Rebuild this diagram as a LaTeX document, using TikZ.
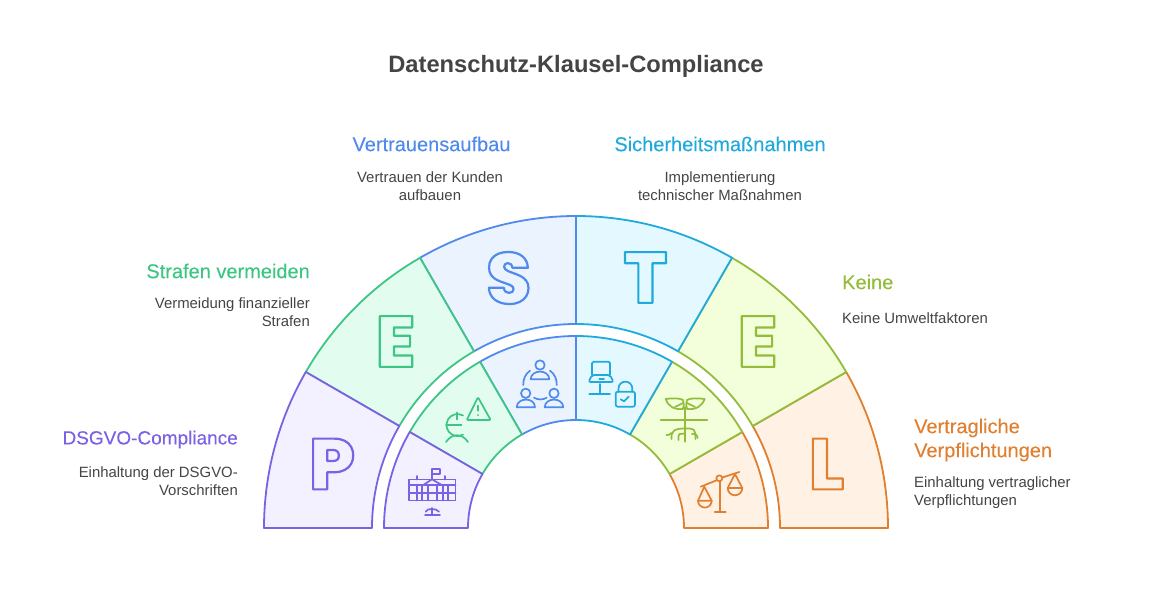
\documentclass[tikz,border=0pt]{standalone}
\usepackage{fontspec}
\setmainfont{Liberation Sans}
\newfontfamily\letterfont{Poppins ExtraBold}
\newfontfamily\headfont[FakeBold=0.12]{Liberation Sans}
\definecolor{pline}{HTML}{7B61E4}
\definecolor{pfill}{HTML}{F3F0FF}
\definecolor{gline}{HTML}{3CC583}
\definecolor{gfill}{HTML}{E2FDF0}
\definecolor{sline}{HTML}{4F8AEC}
\definecolor{sfill}{HTML}{EBF3FF}
\definecolor{tline}{HTML}{20A9DC}
\definecolor{tfill}{HTML}{E3F8FF}
\definecolor{lline}{HTML}{92BC39}
\definecolor{lfill}{HTML}{F2FFDA}
\definecolor{oline}{HTML}{E07F2F}
\definecolor{ofill}{HTML}{FFF1E3}
\definecolor{bodytext}{HTML}{444444}
\newcommand{\outlined}[1]{\special{pdf:code 1 Tr 2.2 w 1 j}#1\special{pdf:code 0 Tr 0.4 w 0 j}}
\tikzset{
  sector/.style={draw=#1line, fill=#1fill, line width=1.8pt, line join=round},
  icon/.style={draw=#1, line width=1.7pt, line cap=round, line join=round},
  letternode/.style={text=#1, inner sep=0pt, font=\letterfont\fontsize{72}{72}\selectfont},
  titlenode/.style={inner sep=0pt, text=bodytext, font=\fontsize{23.7}{28}\selectfont\bfseries},
  headnode/.style={inner sep=0pt, text=#1, font=\headfont\fontsize{20}{24}\selectfont},
  descnode/.style={inner sep=0pt, text=bodytext, font=\fontsize{14.9}{18}\selectfont},
}
\begin{document}
\begin{tikzpicture}[x=1pt, y=-1pt]
  \useasboundingbox (0,0) rectangle (1152,600);
  \begin{scope}[shift={(576,528)}]
    \foreach \a/\c in {-30/o,-60/l,-90/t,-120/s,-150/g,-180/p} {
      \draw[sector=\c] (\a:312) arc[start angle=\a, end angle=\a+30, radius=312]
        -- (\a+30:204) arc[start angle=\a+30, end angle=\a, radius=204] -- cycle;
      \draw[sector=\c] (\a:192) arc[start angle=\a, end angle=\a+30, radius=192]
        -- (\a+30:108) arc[start angle=\a+30, end angle=\a, radius=108] -- cycle;
    }
  \end{scope}

  \node[titlenode] (title) at (576,66.5) {Datenschutz-Klausel-Compliance};

  \node[letternode=pline] (letterp) at (332,464) {\outlined{P}};
  \node[letternode=gline] (lettere) at (395.5,341.5) {\outlined{E}};
  \node[letternode=sline] (letters) at (508.7,278) {\outlined{S}};
  \node[letternode=tline] (lettert) at (645.5,277.5) {\outlined{T}};
  \node[letternode=lline] (letterf) at (757.5,341.5) {\outlined{E}};
  \node[letternode=oline] (letterl) at (826.5,464) {\outlined{L}};

  \node[headnode=pline, anchor=east, font=\headfont\fontsize{19}{24}\selectfont] (headp) at (238,439.5) {DSGVO-Compliance};
  \node[descnode, anchor=east, align=right] (descp) at (238,481) {Einhaltung der DSGVO-\\Vorschriften};
  \node[headnode=gline, anchor=east] (heade) at (310,271) {Strafen vermeiden};
  \node[descnode, anchor=east, align=right] (desce) at (310,312) {Vermeidung finanzieller\\Strafen};
  \node[headnode=sline] (heads) at (431.5,144) {Vertrauensaufbau};
  \node[descnode, align=center] (descs) at (430,186) {Vertrauen der Kunden\\aufbauen};
  \node[headnode=tline] (headt) at (720,144) {Sicherheitsmaßnahmen};
  \node[descnode, align=center] (desct) at (720,186) {Implementierung\\technischer Maßnahmen};
  \node[headnode=lline, anchor=west] (headf) at (842,282) {Keine};
  \node[descnode, anchor=west] (descf) at (842,318) {Keine Umweltfaktoren};
  \node[headnode=oline, anchor=west, align=left] (headl) at (914,440) {Vertragliche\\Verpflichtungen};
  \node[descnode, anchor=west, align=left] (descl) at (914,493) {Einhaltung vertraglicher\\Verpflichtungen};

  % building
  \begin{scope}[icon=pline]
    \draw (409,479.5) rectangle (455.5,500.5);
    \draw (409,485) -- (423.3,485) (441.7,485) -- (455.5,485);
    \draw (409,492.7) -- (455.5,492.7);
    \draw (416.7,479.5) -- (416.7,476) (445,479.5) -- (445,476);
    \foreach \x in {416.7,421.7,428.3,436.7,442.7,448.3} {
      \draw (\x,485) -- (\x,500.5);
    }
    \draw (423.3,485) -- (432,479.3) -- (441.7,485) -- cycle;
    \draw (432,479.3) -- (432,469.3) -- (440,469.3) -- (440,474) -- (432,474);
    \draw (425,514.7) -- (440,514.7) (431.7,514.7) -- (431.7,508);
    \draw (425.7,511.7) .. controls (427,508) and (436,508) .. (439,511.7);
  \end{scope}

  % euro and warning
  \begin{scope}[icon=gline]
    \draw[rounded corners=1pt] (478,397.3) -- (490.7,420) -- (466.7,420) -- cycle;
    \draw (478,405.7) -- (478,410.7);
    \fill[gline] (478,415) circle (1);
    \draw (463,415.5) arc[start angle=-60, end angle=-300, radius=11];
    \draw (446,425) -- (461.5,425);
    \draw (457.3,412.5) -- (457.3,419.5);
    \draw (446,442) .. controls (452,433) and (462,433) .. (468,442);
  \end{scope}

  % people
  \begin{scope}[icon=sline]
    \draw (540,365) circle (4.7);
    \draw (530.7,379.3) .. controls (531,369) and (549,369) .. (549.3,379.3) -- cycle;
    \draw (525.7,393.3) circle (4.7);
    \draw (516.7,407.3) .. controls (517,397) and (535,397) .. (535,407.3) -- cycle;
    \draw (554,393.3) circle (4.7);
    \draw (544.7,407.3) .. controls (545,397) and (563,397) .. (563.3,407.3) -- cycle;
    \draw (530,370.7) .. controls (525,374) and (523,380) .. (523.3,385);
    \draw (550,370.7) .. controls (555,374) and (557,380) .. (556.7,385);
    \draw (534,397.7) .. controls (538,400) and (543,400) .. (546.7,397.7);
  \end{scope}

  % laptop and lock
  \begin{scope}[icon=tline]
    \draw[rounded corners=1.5pt] (592,375) -- (592,361.7) -- (610,361.7) -- (610,375);
    \draw[rounded corners=2pt] (592,375) -- (610,375) -- (613.5,382) -- (588.5,382) -- cycle;
    \draw (599.3,379) -- (604,379);
    \draw (600,384) -- (600,394) (589.3,394) -- (610,394);
    \draw[rounded corners=2pt] (615.7,391.7) rectangle (635,406.7);
    \draw (618.5,391.7) -- (618.5,388.5) arc[start angle=180, end angle=360, radius=6.9] -- (632.3,391.7);
    \draw (620.7,399.3) -- (624,401.3) -- (628.7,396.7);
  \end{scope}

  % plant
  \begin{scope}[icon=lline]
    \draw (685,407) -- (685,441.7);
    \draw (660.7,420) -- (707.3,420);
    \draw (665.7,399) .. controls (672,398) and (680,398) .. (683,400) .. controls (684,404) and (684,406) .. (683,409) .. controls (674,410) and (668,406) .. (665.7,399) -- cycle;
    \draw (704.7,399) .. controls (698,398) and (690,398) .. (687,400) .. controls (686,404) and (686,406) .. (687,409) .. controls (696,410) and (702,406) .. (704.7,399) -- cycle;
    \draw (675,407) -- (683,403) (695,407) -- (687,403);
    \draw (671.5,439) .. controls (671,431) and (674,428.5) .. (685,428.5) .. controls (695,428.5) .. (695.5,439);
    \draw (666.5,435) .. controls (669,435) .. (671.5,433);
    \draw (678.5,440) -- (678.5,436) .. controls (678.5,434) .. (685,433.5);
    \draw (692,434) .. controls (696,433) and (697,435) .. (697.5,438);
  \end{scope}

  % scales
  \begin{scope}[icon=oline]
    \draw (700.7,486.7) -- (716.3,480.4) (722.3,477.5) -- (739.3,472);
    \draw (719.3,478.3) circle (3);
    \draw (720,481.3) -- (720,512.3) (714.7,512.3) -- (725.7,512.3);
    \draw (704.3,486.7) -- (698,500.7) (704.3,486.7) -- (711.7,500.7);
    \draw (698,500.7) -- (711.7,500.7) arc[start angle=0, end angle=180, x radius=6.85, y radius=6.85] -- cycle;
    \draw (735,474) -- (727.7,488) (735,474) -- (742.3,488);
    \draw (727.7,488) -- (742.3,488) arc[start angle=0, end angle=180, radius=7.3] -- cycle;
  \end{scope}
\end{tikzpicture}
\end{document}
